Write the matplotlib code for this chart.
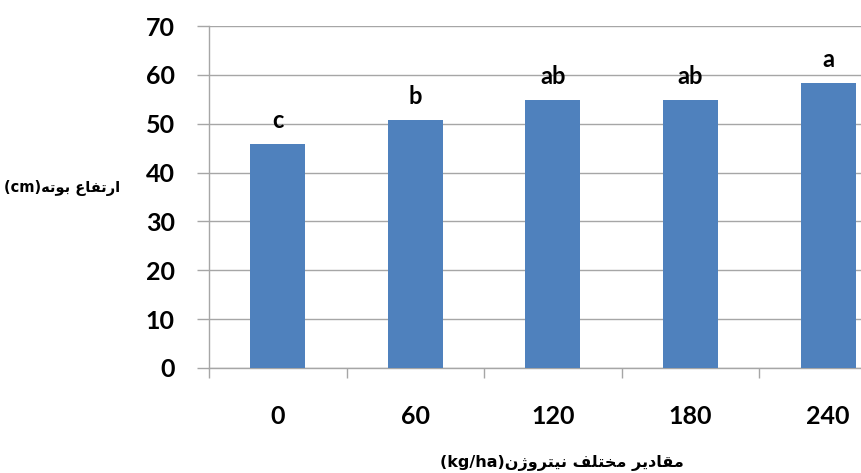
import numpy as np
import matplotlib
matplotlib.use("Agg")
import matplotlib.pyplot as plt

categories = ["0", "60", "120", "180", "240"]
heights = [45.8, 50.8, 54.9, 54.9, 58.3]
letters = ["c", "b", "ab", "ab", "a"]

# Persian labels written in visual order with presentation forms (no shaping in matplotlib)
ylabel_txt = "(cm)" + "\uFEEA\uFE97\uFEEE\uFE91" + " " + "\uFEC9\uFE8E\uFED4\uFE97\uFEAD\uFE8D"
xlabel_txt = ("(kg/ha)" + "\uFEE5\u0698\uFEED\uFEAE\uFE98\uFEF4\uFEE7" + " "
              + "\uFED2\uFEE0\uFE98\uFEA8\uFEE3" + " "
              + "\uFEAE\uFEF3\uFEA9\uFE8E\uFED8\uFEE3")

plt.rcParams['font.family'] = ['Lato', 'DejaVu Sans']
grid_c = "#a6a6a6"
bar_c = "#4f81bd"

fig = plt.figure(figsize=(8.61, 4.73), dpi=100)
ax = fig.add_axes([0.2427, 0.222, 0.799, 0.723])

x = np.arange(len(categories))
ax.bar(x, heights, width=0.4, color=bar_c, zorder=3)
for xi, h, lab in zip(x, heights, letters):
    ax.annotate(lab, (xi, h), xytext=(0, 11.5), textcoords="offset points",
                ha="center", va="baseline", fontsize=17, fontweight="bold", zorder=4)

ax.set_xlim(-0.5, 4.5)
ax.set_ylim(0, 70)
ax.set_yticks(np.arange(0, 71, 10))
ax.yaxis.grid(True, color=grid_c, linewidth=1, zorder=0)
ax.set_xticks(x)
ax.set_xticklabels(categories, fontweight="bold")
ax.set_yticklabels([str(v) for v in range(0, 71, 10)], fontweight="bold")
ax.set_xticks(np.arange(-0.5, 5, 1), minor=True)

for s in ["top", "right"]:
    ax.spines[s].set_visible(False)
for s in ["left", "bottom"]:
    ax.spines[s].set_color(grid_c)
    ax.spines[s].set_linewidth(1)

ax.tick_params(axis="y", length=8.6, width=1, color=grid_c, pad=16, labelsize=18)
ax.tick_params(axis="x", which="major", length=0, pad=27, labelsize=18)
ax.tick_params(axis="x", which="minor", length=7, width=1, color=grid_c)

fig.text(62 / 861, 1 - 188 / 473, ylabel_txt, ha="center", va="center",
         fontsize=10.5, fontweight="bold", family=["DejaVu Sans"])
fig.text(562 / 861, 1 - 463 / 473, xlabel_txt, ha="center", va="center",
         fontsize=11.5, fontweight="bold", family=["DejaVu Sans"])

fig.savefig("out.png", dpi=100)
